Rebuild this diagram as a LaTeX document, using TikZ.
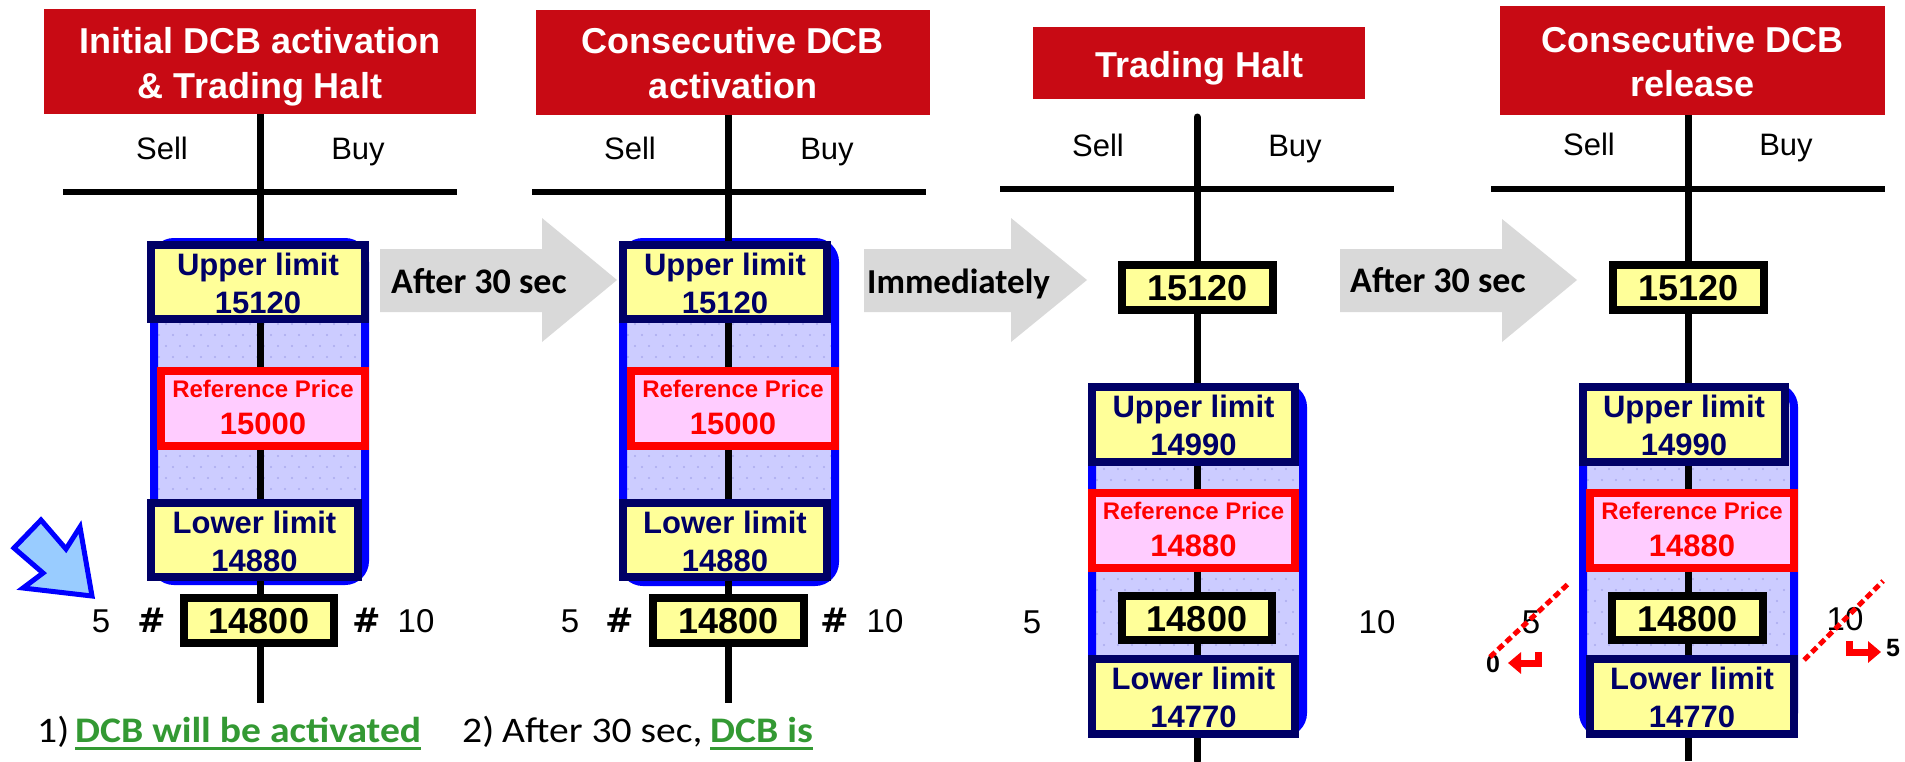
\documentclass[tikz,border=0pt]{standalone}
\usepackage{fontspec}
\setmainfont{Liberation Sans}
\newfontfamily\calfont{Carlito}
\newfontfamily\botfont[FakeStretch=1.1]{Carlito}
\newfontfamily\djvfont{DejaVu Sans}
\usetikzlibrary{arrows.meta}
\definecolor{hred}{RGB}{200,10,20}
\definecolor{navyc}{RGB}{0,0,102}
\definecolor{ylw}{RGB}{255,255,153}
\definecolor{pinkf}{RGB}{255,204,255}
\definecolor{lav}{RGB}{204,204,255}
\definecolor{dotc}{RGB}{170,170,238}
\definecolor{grayA}{RGB}{217,217,217}
\definecolor{grn}{RGB}{51,153,51}
\definecolor{lblue}{RGB}{153,204,255}
\newcommand\mybluebox[4]{%
  \begin{scope}
    \clip[rounded corners=20pt] (#1,#2) rectangle (#3,#4);
    \fill[lav] (#1,#2) rectangle (#3,#4);
    \foreach \j in {0,...,32}{
      \foreach \i in {0,...,16}{
        \fill[dotc] ({#1+5+\i*14+mod(\j,2)*7},{#2+5+\j*11}) circle (1.1);
      }
    }
  \end{scope}
  \draw[blue, line width=8, rounded corners=20pt] (#1,#2) rectangle (#3,#4);
}
\begin{document}
\begin{tikzpicture}[x=1pt,y=-1pt,
  hdrbox/.style={fill=hred, draw=none, inner sep=0},
  htxt/.style={font=\fontsize{36}{43}\selectfont\bfseries, text=white, inner sep=0, anchor=base},
  sb/.style={font=\fontsize{31}{37}\selectfont, inner sep=0, anchor=base},
  vline/.style={line width=7, black},
  hline/.style={line width=6, black},
  nbox/.style={draw=navyc, line width=8, fill=ylw, inner sep=0},
  rbox/.style={draw=red, line width=8, fill=pinkf, inner sep=0},
  kbox/.style={draw=black, line width=8, fill=ylw, inner sep=0},
  lim/.style={font=\fontsize{31}{37}\selectfont\bfseries, text=navyc, inner sep=0, anchor=base},
  refl/.style={font=\fontsize{24}{29}\selectfont\bfseries, text=red, inner sep=0, anchor=base},
  refn/.style={font=\fontsize{31}{37}\selectfont\bfseries, text=red, inner sep=0, anchor=base},
  pnum/.style={font=\fontsize{36}{43}\selectfont\bfseries, inner sep=0, anchor=base},
  side/.style={font=\fontsize{33}{40}\selectfont, inner sep=0, anchor=base},
  hash/.style={font=\djvfont\fontsize{34}{40}\selectfont\bfseries, inner sep=0, anchor=base},
  arrtxt/.style={font=\calfont\fontsize{36}{43}\selectfont\bfseries, inner sep=0, anchor=base west},
  bot/.style={font=\botfont\fontsize{36}{43}\selectfont, inner sep=0, anchor=base west},
  botg/.style={font=\botfont\fontsize{36}{43}\selectfont\bfseries, text=grn, inner sep=0, anchor=base west},
  small/.style={font=\fontsize{25}{30}\selectfont\bfseries, inner sep=0},
  reddot/.style={red, line width=5, dash pattern=on 7pt off 4pt},
  hook/.style={red, line width=7, -{Triangle[length=13pt, width=21pt]}}
]
\useasboundingbox (0,0) rectangle (1905,761);

% gray block arrows
\fill[grayA] (380,249) -- (542,249) -- (542,218) -- (617,280) -- (542,342) -- (542,312) -- (380,312) -- cycle;
\fill[grayA] (864,249) -- (1011,249) -- (1011,218) -- (1087,280) -- (1011,342) -- (1011,312) -- (864,312) -- cycle;
\fill[grayA] (1340,249) -- (1502,249) -- (1502,219) -- (1577,280) -- (1502,342) -- (1502,312) -- (1340,312) -- cycle;
\node[arrtxt] (a1t) at (391,293) {After 30 sec};
\node[arrtxt, font=\calfont\fontsize{35}{42}\selectfont\bfseries] (a2t) at (867,293) {Immediately};
\node[arrtxt] (a3t) at (1350,292) {After 30 sec};

% headers
\node[hdrbox, minimum width=432, minimum height=105] (h1) at (260,61.5) {};
\node[htxt] (h1a) at (260,53) {Initial DCB activation};
\node[htxt] (h1b) at (260,98) {\& Trading Halt};
\node[hdrbox, minimum width=394, minimum height=105] (h2) at (733,62.5) {};
\node[htxt] (h2a) at (733,53) {Consecutive DCB};
\node[htxt] (h2b) at (733,98) {activation};
\node[hdrbox, minimum width=332, minimum height=72] (h3) at (1199,63) {};
\node[htxt] (h3a) at (1199,77) {Trading Halt};
\node[hdrbox, minimum width=385, minimum height=109] (h4) at (1692.5,60.5) {};
\node[htxt] (h4a) at (1692.5,52) {Consecutive DCB};
\node[htxt] (h4b) at (1692.5,96) {release};

% Sell / Buy
\node[sb] (s1) at (162,159) {Sell};  \node[sb] (b1) at (358,159) {Buy};
\node[sb] (s2) at (630,159) {Sell};  \node[sb] (b2) at (827,159) {Buy};
\node[sb] (s3) at (1098,156) {Sell}; \node[sb] (b3) at (1295,156) {Buy};
\node[sb] (s4) at (1589,155) {Sell}; \node[sb] (b4) at (1786,155) {Buy};

% blue DCB ranges
\mybluebox{154}{242}{365}{581}
\mybluebox{623}{242}{835}{582}
\mybluebox{1092}{387}{1303}{733}
\mybluebox{1583}{387}{1794}{733}

% axis lines
\coordinate (e1) at (260,703);
\coordinate (t2) at (728,115); \coordinate (e2) at (728,703);
\coordinate (t3) at (1197,117); \coordinate (e3) at (1197,761);
\coordinate (t4) at (1688,115); \coordinate (e4) at (1688,761);
\draw[vline] (h1.south) -- (e1);
\draw[vline] (t2) -- (e2);
\draw[vline, line cap=round] (t3) -- (e3);
\draw[vline] (t4) -- (e4);
\coordinate (l1a) at (63,192);  \coordinate (l1b) at (457,192);
\coordinate (l2a) at (532,192); \coordinate (l2b) at (926,192);
\coordinate (l3a) at (1000,189); \coordinate (l3b) at (1394,189);
\coordinate (l4a) at (1491,189); \coordinate (l4b) at (1885,189);
\draw[hline] (l1a) -- (l1b);
\draw[hline] (l2a) -- (l2b);
\draw[hline] (l3a) -- (l3b);
\draw[hline] (l4a) -- (l4b);

% panel 1 boxes
\node[nbox, minimum width=214, minimum height=74] (u1) at (258,282) {};
\node[lim] (u1a) at (258,275) {Upper limit};
\node[lim] (u1b) at (258,313) {15120};
\node[rbox, minimum width=204, minimum height=75] (r1) at (263,408.5) {};
\node[refl] (r1a) at (263,397) {Reference Price};
\node[refn] (r1b) at (263,434) {15000};
\node[nbox, minimum width=207, minimum height=74] (lo1) at (254.5,540) {};
\node[lim] (lo1a) at (254.5,533) {Lower limit};
\node[lim] (lo1b) at (254.5,571) {14880};
\node[kbox, minimum width=150, minimum height=45] (p1) at (259,620.5) {};
\node[pnum] (p1a) at (259,633) {14800};
\node[side] (f1) at (101,632) {5};
\node[hash] (hs1) at (152,632) {\#};
\node[hash] (hb1) at (367,632) {\#};
\node[side] (g1) at (416,632) {10};

% panel 2 boxes
\node[nbox, minimum width=204, minimum height=74] (u2) at (725,282) {};
\node[lim] (u2a) at (725,275) {Upper limit};
\node[lim] (u2b) at (725,313) {15120};
\node[rbox, minimum width=204, minimum height=75] (r2) at (733,408.5) {};
\node[refl] (r2a) at (733,397) {Reference Price};
\node[refn] (r2b) at (733,434) {15000};
\node[nbox, minimum width=204, minimum height=74] (lo2) at (725,540) {};
\node[lim] (lo2a) at (725,533) {Lower limit};
\node[lim] (lo2b) at (725,571) {14880};
\node[kbox, minimum width=151, minimum height=45] (p2) at (728.5,620.5) {};
\node[pnum] (p2a) at (728.5,633) {14800};
\node[side] (f2) at (570,632) {5};
\node[hash] (hs2) at (620,632) {\#};
\node[hash] (hb2) at (835,632) {\#};
\node[side] (g2) at (885,632) {10};

% panel 3 boxes
\node[kbox, minimum width=151, minimum height=45] (t3b) at (1197.5,287.5) {};
\node[pnum] (t3n) at (1197.5,300) {15120};
\node[nbox, minimum width=203, minimum height=75] (u3) at (1193.5,424.5) {};
\node[lim] (u3a) at (1193.5,417) {Upper limit};
\node[lim] (u3b) at (1193.5,455) {14990};
\node[rbox, minimum width=203, minimum height=75] (r3) at (1193.5,530.5) {};
\node[refl] (r3a) at (1193.5,519) {Reference Price};
\node[refn] (r3b) at (1193.5,556) {14880};
\node[kbox, minimum width=150, minimum height=44] (p3) at (1197,618) {};
\node[pnum] (p3a) at (1197,631) {14800};
\node[nbox, minimum width=203, minimum height=75] (lo3) at (1193.5,696.5) {};
\node[lim] (lo3a) at (1193.5,689) {Lower limit};
\node[lim] (lo3b) at (1193.5,727) {14770};
\node[side] (f3) at (1032,633) {5};
\node[side] (g3) at (1377,633) {10};

% panel 4 boxes
\node[kbox, minimum width=151, minimum height=45] (t4b) at (1688.5,287.5) {};
\node[pnum] (t4n) at (1688.5,300) {15120};
\node[nbox, minimum width=202, minimum height=75] (u4) at (1684,424.5) {};
\node[lim] (u4a) at (1684,417) {Upper limit};
\node[lim] (u4b) at (1684,455) {14990};
\node[rbox, minimum width=204, minimum height=75] (r4) at (1692,530.5) {};
\node[refl] (r4a) at (1692,519) {Reference Price};
\node[refn] (r4b) at (1692,556) {14880};
\node[kbox, minimum width=151, minimum height=44] (p4) at (1687.5,618) {};
\node[pnum] (p4a) at (1687.5,631) {14800};
\node[nbox, minimum width=204, minimum height=75] (lo4) at (1692,696.5) {};
\node[lim] (lo4a) at (1692,689) {Lower limit};
\node[lim] (lo4b) at (1692,727) {14770};
\node[side] (f4) at (1531,633) {5};
\node[side] (g4) at (1845,630) {10};
\node[small] (z4) at (1493,664) {0};
\node[small] (fv4) at (1893,648) {5};

% red strike lines and hooks
\coordinate (d1a) at (1490,657); \coordinate (d1b) at (1568,584);
\coordinate (d2a) at (1804,660); \coordinate (d2b) at (1883,581);
\draw[reddot] (d1a) -- (d1b);
\draw[reddot] (d2a) -- (d2b);
\coordinate (k1a) at (1538,652); \coordinate (k1b) at (1538,663); \coordinate (k1c) at (1508,663);
\draw[hook] (k1a) -- (k1b) -- (k1c);
\coordinate (k2a) at (1849,641); \coordinate (k2b) at (1849,652); \coordinate (k2c) at (1881,652);
\draw[hook] (k2a) -- (k2b) -- (k2c);

% blue pointer arrow
\draw[blue, line width=5, fill=lblue, line join=miter]
  (92,596) -- (80,527) -- (66,549) -- (41,520) -- (14,548) -- (43,573) -- (23,588) -- cycle;

% bottom captions
\node[bot] (c1) at (37,742) {1)};
\node[botg] (c1g) at (75,742) {DCB will be activated};
\draw[grn, line width=3] ([yshift=-6pt]c1g.base west) -- ([yshift=-6pt]c1g.base east);
\node[bot] (c2) at (462,742) {2)};
\node[bot] (c2t) at (502,742) {After 30 sec,};
\node[botg] (c2g) at (710,742) {DCB is};
\draw[grn, line width=3] ([yshift=-6pt]c2g.base west) -- ([yshift=-6pt]c2g.base east);
\end{tikzpicture}
\end{document}
